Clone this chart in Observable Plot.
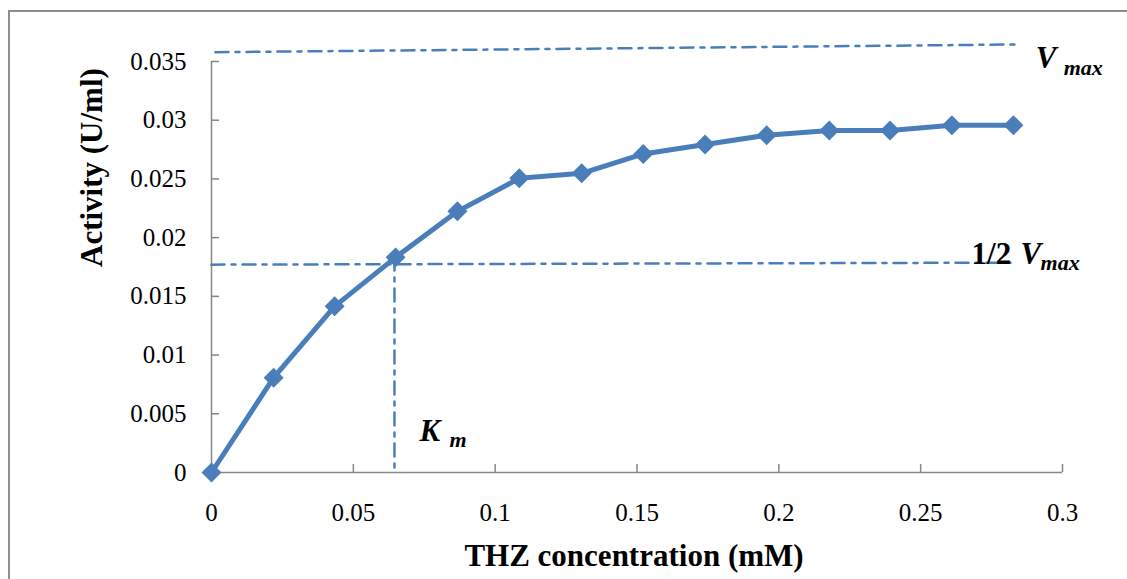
<!DOCTYPE html>
<html>
<head>
<meta charset="utf-8">
<script src="https://cdn.jsdelivr.net/npm/d3@7"></script>
<script src="https://cdn.jsdelivr.net/npm/@observablehq/plot@0.6"></script>
<style>
  html, body { margin: 0; padding: 0; background: #fff; overflow: hidden; }
  #frame {
    position: absolute; left: 8px; top: 10px; width: 1300px; height: 800px;
    border-left: 2px solid #8e8e8e; border-top: 2px solid #8e8e8e;
  }
  #chart { position: absolute; left: 0; top: 0; }
  #chart svg, #chart svg text { font-family: "Liberation Serif", "Times New Roman", serif !important; }
</style>
</head>
<body>
<div id="frame"></div>
<div id="chart"></div>
<script>
// Enzyme kinetics: activity vs. THZ substrate concentration
const concentration = [0, 0.0219, 0.0434, 0.0649, 0.0867, 0.1085, 0.1305, 0.1522, 0.1740, 0.1957, 0.2178, 0.2392, 0.2610, 0.2827];
const activity = [0, 0.00807, 0.01415, 0.01832, 0.02224, 0.02505, 0.02548, 0.02713, 0.02793, 0.02872, 0.02912, 0.02912, 0.02957, 0.02957];

const xTicks = [0, 0.05, 0.1, 0.15, 0.2, 0.25, 0.3];
const yTicks = [0, 0.005, 0.01, 0.015, 0.02, 0.025, 0.03, 0.035];

// Reference guides (drawn by hand on the original figure)
const vmaxLine = [{x: 0.0014, y: 0.03579}, {x: 0.2842, y: 0.03645}];
const halfVmaxLine = [{x: 0, y: 0.0177}, {x: 0.2824, y: 0.01787}];
const km = 0.0645;
const kmLine = [{x: km, y: 0.0183}, {x: km, y: 0}];

const xTitle = "THZ concentration (mM)";
const yTitle = "Activity (U/ml)";

const blue = "#4a7ebb";
const axisGray = "#878787";
const serif = "Liberation Serif";
const guide = {x: "x", y: "y", stroke: blue, strokeWidth: 2.5, strokeDasharray: "13,7,4,7"};
const labelBig = {fontFamily: serif, fontSize: 31, fontWeight: "bold", fontStyle: "italic", textAnchor: "start", lineAnchor: "bottom", fill: "#000"};
const labelSub = {fontFamily: serif, fontSize: 22, fontWeight: "bold", fontStyle: "italic", textAnchor: "start", lineAnchor: "bottom", fill: "#000"};

const points = concentration.map((x, i) => ({x, y: activity[i]}));
const fmt = d => `${d}`;

const chart = Plot.plot({
  width: 1127,
  height: 579,
  marginLeft: 211,
  marginRight: 65,
  marginTop: 61,
  marginBottom: 107,
  style: {fontFamily: serif, fontSize: "25px", color: "#000", background: "transparent"},
  x: {domain: [0, 0.3]},
  y: {domain: [0, 0.035]},
  marks: [
    // axes with inward ticks
    Plot.ruleY([0], {stroke: axisGray, strokeWidth: 1.5}),
    Plot.ruleX([0], {stroke: axisGray, strokeWidth: 1.5}),
    Plot.axisX({ticks: xTicks, tickFormat: fmt, tickSize: -8, tickPadding: 39, stroke: axisGray, strokeWidth: 1.5, fill: "#000", label: null, fontSize: 25, fontFamily: serif}),
    Plot.axisY({ticks: yTicks, tickFormat: fmt, tickSize: -8, tickPadding: 33, stroke: axisGray, strokeWidth: 1.5, fill: "#000", label: null, fontSize: 25, fontFamily: serif}),

    // Vmax, ½Vmax and Km guides
    Plot.line(vmaxLine, guide),
    Plot.line(halfVmaxLine, guide),
    Plot.line(kmLine, guide),

    // measured activity
    Plot.line(points, {x: "x", y: "y", stroke: blue, strokeWidth: 5, strokeLinejoin: "round"}),
    Plot.dot(points, {x: "x", y: "y", symbol: "diamond2", r: 9, fill: blue, stroke: null}),

    // guide labels
    Plot.text([vmaxLine[1]], {x: "x", y: "y", text: () => "V", dx: 18, dy: 24, ...labelBig}),
    Plot.text([vmaxLine[1]], {x: "x", y: "y", text: () => "max", dx: 46, dy: 31, ...labelSub}),
    Plot.text([halfVmaxLine[1]], {x: "x", y: "y", text: () => "1/2", dx: -41, dy: 1, ...labelBig, fontStyle: "normal"}),
    Plot.text([halfVmaxLine[1]], {x: "x", y: "y", text: () => "V", dx: 8, dy: 1, ...labelBig}),
    Plot.text([halfVmaxLine[1]], {x: "x", y: "y", text: () => "max", dx: 28, dy: 7, ...labelSub}),
    Plot.text([kmLine[1]], {x: "x", y: "y", text: () => "K", dx: 25, dy: -32, ...labelBig}),
    Plot.text([kmLine[1]], {x: "x", y: "y", text: () => "m", dx: 55, dy: -26, ...labelSub}),

    // axis titles
    Plot.text([xTitle], {frameAnchor: "bottom", dx: -3, dy: 93, lineAnchor: "bottom", fontFamily: serif, fontSize: 31, fontWeight: "bold", fill: "#000"}),
    Plot.text([yTitle], {frameAnchor: "left", rotate: -90, dx: -110, lineAnchor: "bottom", fontFamily: serif, fontSize: 31, fontWeight: "bold", fill: "#000"})
  ]
});

document.getElementById("chart").append(chart);
</script>
</body>
</html>
